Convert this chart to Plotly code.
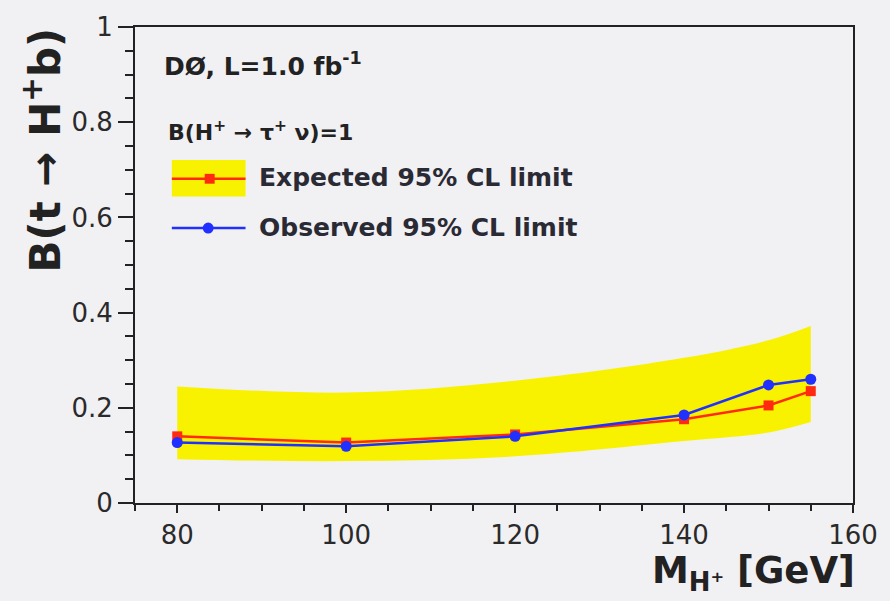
import plotly.graph_objects as go

mass = [80, 100, 120, 140, 150, 155]
expected = [0.140, 0.127, 0.144, 0.176, 0.205, 0.235]
observed = [0.127, 0.119, 0.140, 0.185, 0.248, 0.260]
band_lo = [0.092, 0.088, 0.098, 0.130, 0.148, 0.170]
band_hi = [0.245, 0.232, 0.257, 0.305, 0.342, 0.372]

W, H = 890, 601
L, R, T, B = 135, 856, 20, 503
def px(x): return (x - L) / (R - L)
def py(y): return (B - y) / (B - T)

BG = "#f1f0f3"
YEL = "#f8f200"
RED = "#ff2a10"
BLUE = "#2030ff"
FONT = "DejaVu Sans"

fig = go.Figure()
fig.add_trace(go.Scatter(x=mass, y=band_lo, mode="lines", line=dict(width=0, color=YEL, shape="spline"),
                         showlegend=False, hoverinfo="skip"))
fig.add_trace(go.Scatter(x=mass, y=band_hi, mode="lines", line=dict(width=0, color=YEL, shape="spline"),
                         fill="tonexty", fillcolor=YEL, showlegend=False, hoverinfo="skip"))
fig.add_trace(go.Scatter(x=mass, y=expected, mode="lines+markers",
                         line=dict(color=RED, width=2.5),
                         marker=dict(symbol="square", size=10, color=RED), showlegend=False))
fig.add_trace(go.Scatter(x=mass, y=observed, mode="lines+markers",
                         line=dict(color=BLUE, width=2.5),
                         marker=dict(symbol="circle", size=11, color=BLUE), showlegend=False))

axis_common = dict(showline=True, linecolor="#222", linewidth=2, mirror=True,
                   ticks="outside", tickcolor="#222", tickwidth=2,
                   showgrid=False, zeroline=False,
                   tickfont=dict(family=FONT, size=26, color="#2a2a2a"))
fig.update_xaxes(range=[75, 160], tick0=80, dtick=20, ticklen=8,
                 minor=dict(dtick=5, ticks="outside", ticklen=6, tickcolor="#222", tickwidth=2, showgrid=False),
                 **axis_common)
fig.update_yaxes(range=[0, 1], tick0=0, dtick=0.2, ticklen=15,
                 minor=dict(dtick=0.05, ticks="outside", ticklen=8, tickcolor="#222", tickwidth=2, showgrid=False),
                 **axis_common)

shapes = [
    dict(type="rect", xref="paper", yref="paper", x0=px(172), x1=px(246), y0=py(192), y1=py(155),
         fillcolor=YEL, line=dict(width=0)),
    dict(type="line", xref="paper", yref="paper", x0=px(172), x1=px(246), y0=py(174), y1=py(174),
         line=dict(color=RED, width=2.5)),
    dict(type="rect", xref="paper", yref="paper", x0=px(205), x1=px(215), y0=py(179), y1=py(169),
         fillcolor=RED, line=dict(width=0)),
    dict(type="line", xref="paper", yref="paper", x0=px(172), x1=px(246), y0=py(224), y1=py(224),
         line=dict(color=BLUE, width=2.5)),
    dict(type="circle", xref="paper", yref="paper", x0=px(203), x1=px(214), y0=py(229.5), y1=py(218.5),
         fillcolor=BLUE, line=dict(width=0)),
]

def ann(text, x, y, size, xanchor="left", yanchor="middle", angle=0, bold=True, color="#222"):
    return dict(text=text, xref="paper", yref="paper", x=px(x), y=py(y), showarrow=False,
                xanchor=xanchor, yanchor=yanchor, textangle=angle,
                font=dict(family=FONT, size=size, color=color, weight="bold" if bold else "normal"))

annotations = [
    ann("DØ, L=1.0 fb<sup>-1</sup>", 162, 58, 25),
    ann("B(H<sup>+</sup> → τ<sup>+</sup> ν)=1", 166, 126, 22),
    ann("Expected 95% CL limit", 258, 173, 25, color="#2a2a35"),
    ann("Observed 95% CL limit", 258, 223, 25, color="#2a2a35"),
    ann("B(t → H<sup>+</sup>b)", 42, 145, 42, xanchor="center", angle=-90),
    ann("M<sub>H⁺</sub> [GeV]", 860, 600, 37, xanchor="right", yanchor="bottom"),
]

fig.update_layout(width=W, height=H, margin=dict(l=L, r=W - R, t=T, b=H - B),
                  paper_bgcolor=BG, plot_bgcolor=BG, shapes=shapes, annotations=annotations,
                  showlegend=False)
fig.write_html("out.html")
